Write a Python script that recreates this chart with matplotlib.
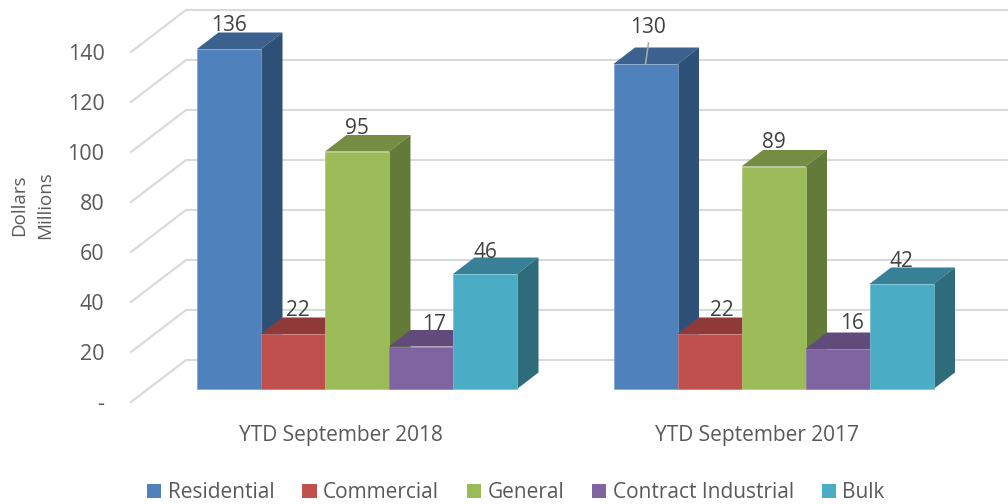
import matplotlib
matplotlib.use("Agg")
import matplotlib.pyplot as plt
from matplotlib.patches import Patch

plt.rcParams['font.family'] = ['Open Sans', 'DejaVu Sans']

# Data
categories = ["YTD September 2018", "YTD September 2017"]
series = ["Residential", "Commercial", "General", "Contract Industrial", "Bulk"]
residential = [136, 130]
commercial = [22, 22]
general = [95, 89]
contract_industrial = [17, 16]
bulk = [46, 42]
all_values = [residential, commercial, general, contract_industrial, bulk]
y_ticks = [0, 20, 40, 60, 80, 100, 120, 140]
y_tick_labels = ["-", "20", "40", "60", "80", "100", "120", "140"]

# Colours: front, side, top
front = ["#4F81BD", "#C0504D", "#9BBB59", "#8064A2", "#4BACC6"]
side = ["#2F5077", "#7A2F2D", "#647A39", "#503E68", "#2E6B7B"]
top = ["#3C618E", "#8F3A38", "#748D42", "#604B7A", "#388096"]
edge = ["#7FA3CE", "#CC7B78", "#B0CA7C", "#8F74B0", "#79C0D4"]

# Pixel scale of the picture
W, H = 1008, 504
px_x = 416.5          # pixels per category
px_y = 2.5            # pixels per dollar
x0_px, y0_px = 357, 389

fig = plt.figure(figsize=(10.08, 5.04), dpi=100)
ax = fig.add_axes([0, 0, 1, 1])
ax.set_xlim(-x0_px / px_x, (W - x0_px) / px_x)
ax.set_ylim((y0_px - H) / px_y, y0_px / px_y)
ax.axis("off")

bar_w = 64.0 / px_x
depth_x = 21.5 / px_x
depth_y = 16.5 / px_y


def xp(dx):
    return dx / px_x


def yp(dy):
    return dy / px_y


# Walls and gridlines
for t, lab in zip(y_ticks, y_tick_labels):
    ax.plot([xp(131 - x0_px), xp(186 - x0_px), xp(W - x0_px)],
            [t - yp(13), t + yp(29), t + yp(29)],
            color="#D9D9D9", lw=1.5, zorder=1, solid_joinstyle="miter")
    ax.text(xp(104.5 - x0_px), t - yp(13), lab, ha="right", va="center_baseline",
            fontsize=15.5, color="#595959")

# Bars
z = 2
for c in range(len(categories)):
    for s in range(len(series)):
        v = all_values[s][c]
        left = c + (s - 2.5) * bar_w
        right = left + bar_w
        ax.fill([left, left + depth_x, right + depth_x, right],
                [v, v + depth_y, v + depth_y, v], color=top[s], lw=0, zorder=z)
        ax.fill([right, right + depth_x, right + depth_x, right],
                [0, depth_y, v + depth_y, v], color=side[s], lw=0, zorder=z)
        ax.bar(c + (s - 2) * bar_w, v, width=bar_w, color=front[s], edgecolor=edge[s],
               linewidth=0.5, zorder=z + 0.5)
        z += 1

# Data labels, nudged as in the original
label_dx = [[0, 5, 0, 13, 0], [2.5, 12, 0, 15, 0]]
label_dy = [[26, 26, 25, 25, 24], [39, 26, 26, 28, 25]]
for c in range(len(categories)):
    for s in range(len(series)):
        v = all_values[s][c]
        xc = c + (s - 2) * bar_w
        ax.text(xc + xp(label_dx[c][s]), v + yp(label_dy[c][s]), str(v), ha="center",
                va="center_baseline", fontsize=15, color="#404040", zorder=50)

# Leader line for the 130 label
xc = 1 - 2 * bar_w
ax.plot([xc, xc + xp(3)], [130, 130 + yp(21)], color="#A6A6A6", lw=1.2, zorder=40)

# Category labels
for c, name in enumerate(categories):
    ax.text(c + xp(-16.5), yp(-44.5), name, ha="center", va="center_baseline",
            fontsize=15, color="#595959")

# Axis titles
ax.text(xp(19 - x0_px), yp(389 - 205), "Dollars", rotation=90, ha="center", va="center",
        fontsize=13.5, color="#595959")
ax.text(xp(45 - x0_px), yp(389 - 205), "Millions", rotation=90, ha="center", va="center",
        fontsize=13.5, color="#595959")

# Legend
handles = [Patch(facecolor=front[i], label=series[i]) for i in range(len(series))]
leg = ax.legend(handles=handles, ncol=5, loc="center", frameon=False,
                bbox_to_anchor=(516 / W, 1 - 493 / H), fontsize=15,
                handlelength=0.68, handleheight=0.68, handletextpad=0.3,
                columnspacing=1.35, labelcolor="#595959", borderpad=0)

fig.savefig("out.png", dpi=100)
